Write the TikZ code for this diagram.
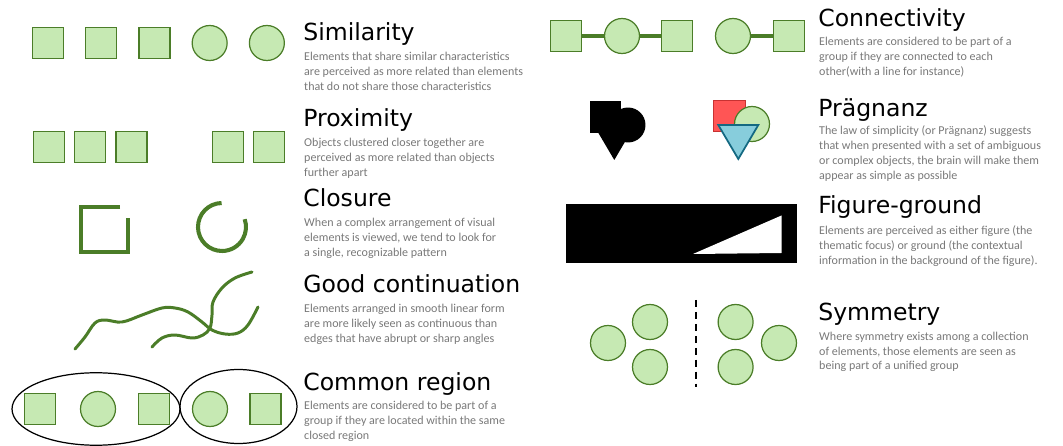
\documentclass[tikz,border=0pt]{standalone}
\usepackage{fontspec}
\setmainfont{DejaVu Sans}
\newfontfamily\descfont{Carlito}
\usetikzlibrary{positioning,shapes.geometric}
\definecolor{grnL}{RGB}{198,233,179}
\definecolor{grnD}{RGB}{75,125,40}
\definecolor{txtG}{RGB}{120,120,120}
\definecolor{redF}{RGB}{255,85,85}
\definecolor{redD}{RGB}{200,50,50}
\definecolor{bluF}{RGB}{135,205,220}
\definecolor{bluD}{RGB}{20,105,130}

\begin{document}
\begin{tikzpicture}[x=0.02cm,y=-0.02cm,
	shp/.style={draw=grnD,fill=grnL,line width=0.7pt,inner sep=0pt},
	sq/.style={shp,minimum size=0.62cm},
	crc/.style={shp,circle,minimum size=0.7cm},
	link/.style={draw=grnD,line width=2.2pt},
	stroke/.style={draw=grnD,line width=2.3pt},
	curve/.style={draw=grnD,line width=1.7pt,line cap=round},
	region/.style={draw,ellipse,line width=0.7pt,inner sep=0pt},
	head/.style={anchor=base west,inner sep=0pt,font=\fontsize{13.4}{16}\selectfont},
	desc/.style={inner sep=0pt,align=left,text=txtG,font=\descfont\fontsize{6.85}{8.5}\selectfont}
	]
	\useasboundingbox (0,0) rectangle (1063,446);

	\node[sq] (s1) at (48,43) {};
	\node[sq,right=0.42cm of s1] (s2) {};
	\node[sq,right=0.42cm of s2] (s3) {};
	\node[crc,right=0.42cm of s3] (s4) {};
	\node[crc,right=0.42cm of s4] (s5) {};

	\node[sq] (p1) at (49,147) {};
	\node[sq,right=0.18cm of p1] (p2) {};
	\node[sq,right=0.18cm of p2] (p3) {};
	\node[sq] (p4) at (228,147) {};
	\node[sq,right=0.18cm of p4] (p5) {};

	\draw[stroke] (120,207) -- (81,207) -- (81,252) -- (128,252) -- (128,218);
	\draw[stroke] (222,227) ++(-91:24) arc[start angle=-91,end angle=-379,radius=24];

	\draw[curve] plot[smooth,tension=0.6] coordinates {(75,349) (85,337) (95,323) (105,320) (122,322) (142,315) (162,308) (175,308) (188,312) (202,322) (212,330) (225,334) (238,333) (248,325) (258,307)};
	\draw[curve] plot[smooth,tension=0.6] coordinates {(152,347) (162,338) (175,335) (192,338) (203,335) (210,328) (212,315) (213,302) (222,288) (235,278) (252,272)};

	\node[region,minimum width=3.36cm,minimum height=1.45cm] (reg1) at (96,409) {};
	\node[region,minimum width=2.34cm,minimum height=1.48cm] (reg2) at (238.5,406.5) {};
	\node[sq] (c1) at (40,409) {};
	\node[crc] (c2) at (98,409) {};
	\node[sq] (c3) at (154,409) {};
	\node[crc] (c4) at (210,409) {};
	\node[sq] (c5) at (265.5,409) {};

	\node[sq] (k1) at (566,36) {};
	\node[crc] (k2) at (622,36) {};
	\node[sq] (k3) at (677,36) {};
	\node[crc] (k4) at (733,36) {};
	\node[sq] (k5) at (789,36) {};
	\draw[link] (k1) -- (k2);
	\draw[link] (k2) -- (k3);
	\draw[link] (k4) -- (k5);

	\node[fill=black,minimum size=0.63cm,inner sep=0pt] (b1) at (605.5,117) {};
	\node[fill=black,circle,minimum size=0.7cm,inner sep=0pt] (b2) at (628,125) {};
	\fill (594.3,126) -- (634.3,126) -- (614.3,160) -- cycle;

	\node[draw=redD,fill=redF,line width=0.7pt,minimum size=0.63cm,inner sep=0pt] (q1) at (729.5,116) {};
	\node[crc] (q2) at (752,124) {};
	\draw[draw=bluD,fill=bluF,line width=1pt] (718.3,125) -- (758.3,125) -- (738.3,159) -- cycle;

	\fill (566,204) rectangle (797,263);
	\fill[white] (693,254) -- (781.5,215.5) -- (781.5,253) -- cycle;

	\node[crc] (y1) at (608,343) {};
	\node[crc] (y2) at (650,322) {};
	\node[crc] (y3) at (650,367) {};
	\node[crc] (y4) at (735.6,322) {};
	\node[crc] (y5) at (779,343) {};
	\node[crc] (y6) at (735.6,367) {};
	\coordinate (ax1) at (696,300);
	\coordinate (ax2) at (696,387);
	\draw[line width=1.2pt,dash pattern=on 4pt off 2.8pt] (ax1) -- (ax2);

	\node[head] (simT) at (303,41) {Similarity};
	\node[desc,below right=6pt and 0.5pt of simT.base west] (simD) {Elements that share similar characteristics\\are perceived as more related than elements\\that do not share those characteristics};

	\node[head] (proT) at (303,127) {Proximity};
	\node[desc,below right=6pt and 0.5pt of proT.base west] (proD) {Objects clustered closer together are\\perceived as more related than objects\\further apart};

	\node[head] (cloT) at (303,207) {Closure};
	\node[desc,below right=6pt and 0.5pt of cloT.base west] (cloD) {When a complex arrangement of visual\\elements is viewed, we tend to look for\\a single, recognizable pattern};

	\node[head] (conT) at (303,293) {Good continuation};
	\node[desc,below right=6pt and 0.5pt of conT.base west] (conD) {Elements arranged in smooth linear form\\are more likely seen as continuous than\\edges that have abrupt or sharp angles};

	\node[head] (regT) at (303,390) {Common region};
	\node[desc,below right=6pt and 0.5pt of regT.base west] (regD) {Elements are considered to be part of a\\group if they are located within the same\\closed region};

	\node[head] (lnkT) at (818,27) {Connectivity};
	\node[desc,below right=5.5pt and 0.5pt of lnkT.base west] (lnkD) {Elements are considered to be part of a\\group if they are connected to each\\other(with a line for instance)};

	\node[head] (praT) at (818,117) {Prägnanz};
	\node[desc,below right=5pt and 0.5pt of praT.base west] (praD) {The law of simplicity (or Prägnanz) suggests\\that when presented with a set of ambiguous\\or complex objects, the brain will make them\\appear as simple as possible};

	\node[head] (figT) at (818,214) {Figure-ground};
	\node[desc,below right=6.5pt and 0.5pt of figT.base west] (figD) {Elements are perceived as either figure (the\\thematic focus) or ground (the contextual\\information in the background of the figure).};

	\node[head] (symT) at (818,320) {Symmetry};
	\node[desc,below right=6.5pt and 0.5pt of symT.base west] (symD) {Where symmetry exists among a collection\\of elements, those elements are seen as\\being part of a unified group};

\end{tikzpicture}
\end{document}
